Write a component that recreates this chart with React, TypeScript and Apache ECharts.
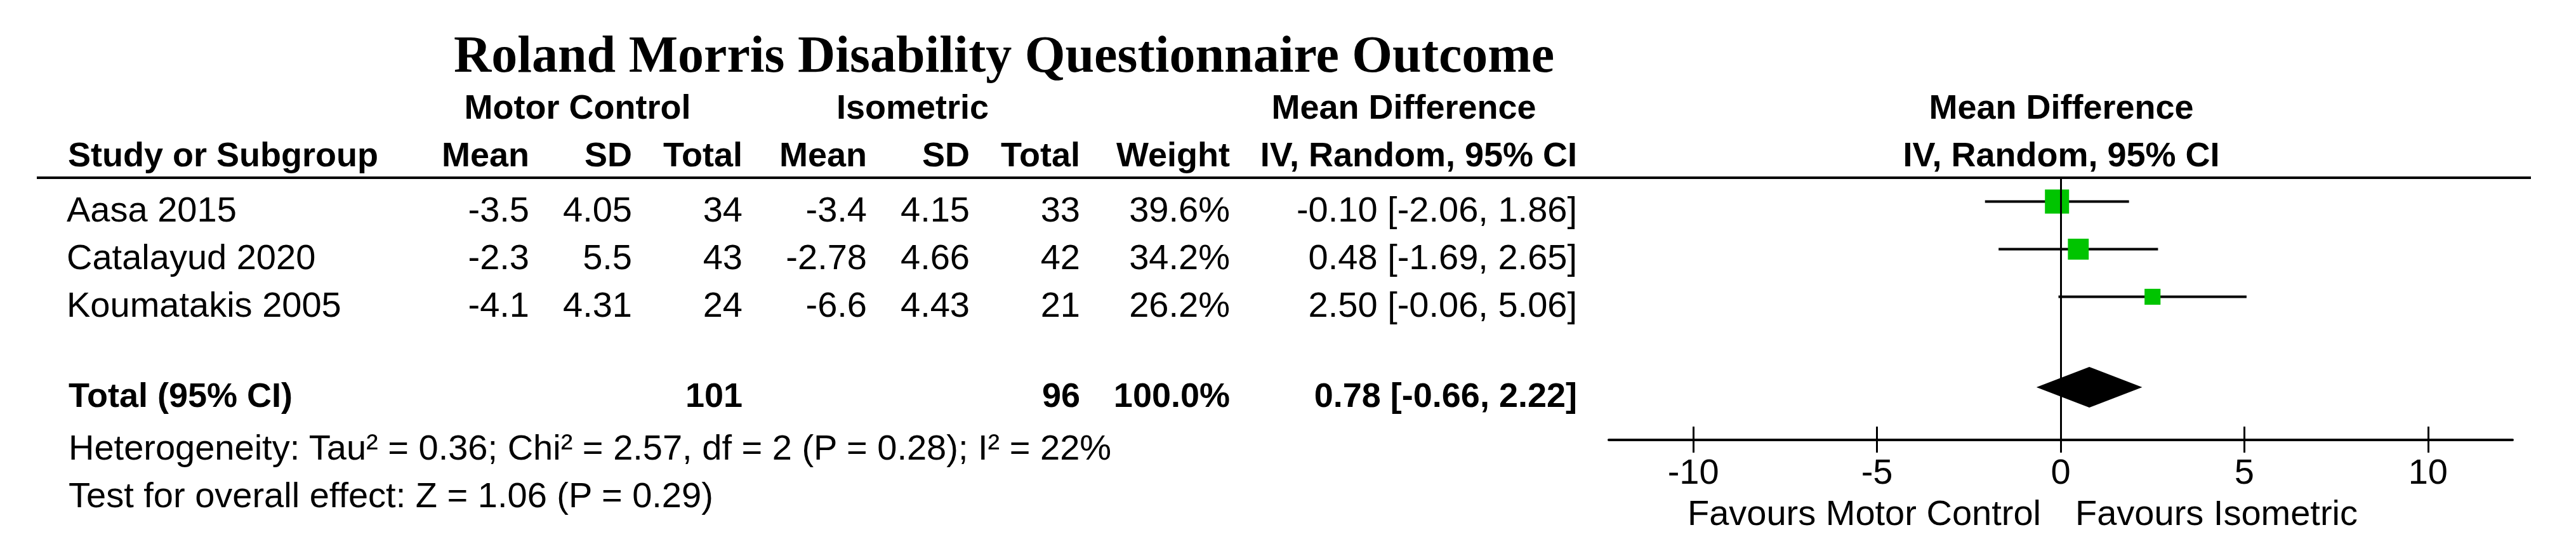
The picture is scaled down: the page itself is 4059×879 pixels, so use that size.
import React, { useEffect, useRef } from 'react';
import * as echarts from 'echarts';

// study rows
const studies = ['Aasa 2015', 'Catalayud 2020', 'Koumatakis 2005'];
const motorMean = [-3.5, -2.3, -4.1];
const motorSD = [4.05, 5.5, 4.31];
const motorTotal = [34, 43, 24];
const isoMean = [-3.4, -2.78, -6.6];
const isoSD = [4.15, 4.66, 4.43];
const isoTotal = [33, 42, 21];
const weights = [39.6, 34.2, 26.2];
const meanDiff = [-0.1, 0.48, 2.5];
const ciLow = [-2.06, -1.69, -0.06];
const ciHigh = [1.86, 2.65, 5.06];

// pooled result
const totalMotor = 101;
const totalIso = 96;
const totalWeight = 100.0;
const pooledMD = 0.78;
const pooledLow = -0.66;
const pooledHigh = 2.22;

const xTicks = [-10, -5, 0, 5, 10];
const X_MIN = -12.3;
const X_MAX = 12.3;

const heterogeneity = 'Heterogeneity: Tau\u00b2 = 0.36; Chi\u00b2 = 2.57, df = 2 (P = 0.28); I\u00b2 = 22%';
const overallEffect = 'Test for overall effect: Z = 1.06 (P = 0.29)';

// layout
const SANS = '"Liberation Sans", Arial, sans-serif';
const REG = `56px ${SANS}`;
const BOLD = `bold 54px ${SANS}`;
const GRID_TOP = 280;
const GRID_BOTTOM = 693;
const ROW_H = 75;
const Y_MAX = (GRID_BOTTOM - GRID_TOP) / ROW_H;
const studyRows = studies.map((_, i) => i + 0.5);
const totalRow = studies.length + 1.4;

const STUDY_X = 105;
const COLS = [834, 996, 1170, 1366, 1528, 1702, 1938, 2485];

const fmtCI = (m: number, l: number, h: number) => `${m.toFixed(2)} [${l.toFixed(2)}, ${h.toFixed(2)}]`;

const txt = (text: string, x: number, y: number, font: string, align = 'left') => ({
  type: 'text',
  x,
  y,
  style: { text, font, fill: '#000', textAlign: align, textVerticalAlign: 'middle' },
});

const App: React.FC = () => {
  const chartRef = useRef<HTMLDivElement>(null);

  useEffect(() => {
    document.body.style.margin = '0';
    if (!chartRef.current) return;
    const chart = echarts.init(chartRef.current, undefined, { renderer: 'svg' });

    const tableData = [...studyRows.map((r) => [0, r]), [0, totalRow]];

    chart.setOption({
      animation: false,
      backgroundColor: '#fff',
      grid: { left: 2535, right: 100, top: GRID_TOP, bottom: 879 - GRID_BOTTOM },
      xAxis: [
        {
          type: 'value',
          min: X_MIN,
          max: X_MAX,
          position: 'bottom',
          axisLine: { show: true, onZero: false, lineStyle: { color: '#000', width: 4 } },
          axisTick: { show: true, inside: false, length: 20, customValues: xTicks, lineStyle: { color: '#000', width: 3 } },
          axisLabel: { show: true, customValues: xTicks, margin: 21, fontSize: 56, fontFamily: SANS, color: '#000' },
          splitLine: { show: false },
        },
        {
          type: 'value',
          min: X_MIN,
          max: X_MAX,
          position: 'bottom',
          axisLine: { show: false, onZero: false },
          axisTick: { show: true, inside: true, length: 21, customValues: xTicks, lineStyle: { color: '#000', width: 3 } },
          axisLabel: { show: false },
          splitLine: { show: false },
        },
      ],
      yAxis: { type: 'value', inverse: true, min: 0, max: Y_MAX, show: false },
      series: [
        {
          type: 'custom',
          name: 'table',
          data: tableData,
          encode: { x: 0, y: 1 },
          renderItem: (params: any, api: any) => {
            const i = params.dataIndex;
            const y = api.coord([0, api.value(1)])[1] + 12;
            if (i < studies.length) {
              const cells = [
                String(motorMean[i]), String(motorSD[i]), String(motorTotal[i]),
                String(isoMean[i]), String(isoSD[i]), String(isoTotal[i]),
                `${weights[i].toFixed(1)}%`, fmtCI(meanDiff[i], ciLow[i], ciHigh[i]),
              ];
              return {
                type: 'group',
                children: [txt(studies[i], STUDY_X, y, REG), ...cells.map((c, k) => txt(c, COLS[k], y, REG, 'right'))],
              };
            }
            return {
              type: 'group',
              children: [
                txt('Total (95% CI)', STUDY_X + 3, y, BOLD),
                txt(String(totalMotor), COLS[2], y, BOLD, 'right'),
                txt(String(totalIso), COLS[5], y, BOLD, 'right'),
                txt(`${totalWeight.toFixed(1)}%`, COLS[6], y, BOLD, 'right'),
                txt(fmtCI(pooledMD, pooledLow, pooledHigh), COLS[7], y, BOLD, 'right'),
              ],
            };
          },
        },
        {
          type: 'custom',
          name: 'studies',
          z: 2,
          data: studies.map((_, i) => [meanDiff[i], studyRows[i], ciLow[i], ciHigh[i], weights[i]]),
          encode: { x: 0, y: 1 },
          renderItem: (params: any, api: any) => {
            const yv = api.value(1);
            const [cx, cy] = api.coord([api.value(0), yv]);
            const x0 = api.coord([api.value(2), yv])[0];
            const x1 = api.coord([api.value(3), yv])[0];
            const side = api.value(4) * 0.96;
            return {
              type: 'group',
              children: [
                { type: 'line', shape: { x1: x0, y1: cy, x2: x1, y2: cy }, style: { stroke: '#000', lineWidth: 4 } },
                { type: 'rect', shape: { x: cx - side / 2, y: cy - side / 2, width: side, height: side }, style: { fill: '#00c400' } },
              ],
            };
          },
        },
        {
          type: 'custom',
          name: 'pooled',
          z: 2,
          data: [[pooledMD, totalRow, pooledLow, pooledHigh]],
          encode: { x: 0, y: 1 },
          renderItem: (params: any, api: any) => {
            const yv = api.value(1);
            const [cx, cy] = api.coord([api.value(0), yv]);
            const x0 = api.coord([api.value(2), yv])[0];
            const x1 = api.coord([api.value(3), yv])[0];
            return {
              type: 'polygon',
              shape: { points: [[x0, cy], [cx, cy - 32], [x1, cy], [cx, cy + 32]] },
              style: { fill: '#000' },
            };
          },
        },
        {
          type: 'line',
          name: 'zero',
          z: 5,
          data: [],
          markLine: {
            silent: true,
            symbol: 'none',
            label: { show: false },
            lineStyle: { color: '#000', width: 3, type: 'solid' },
            data: [{ xAxis: 0 }],
          },
        },
      ],
      graphic: [
        txt('Roland Morris Disability Questionnaire Outcome', 1582, 85, `bold 82px "Liberation Serif", "Times New Roman", serif`, 'center'),
        txt('Motor Control', 910, 168, BOLD, 'center'),
        txt('Isometric', 1438, 168, BOLD, 'center'),
        txt('Mean Difference', 2212, 168, BOLD, 'center'),
        txt('Mean Difference', 3248, 168, BOLD, 'center'),
        txt('Study or Subgroup', 107, 243, BOLD),
        ...['Mean', 'SD', 'Total', 'Mean', 'SD', 'Total', 'Weight', 'IV, Random, 95% CI'].map((h, k) =>
          txt(h, COLS[k], 243, BOLD, 'right')
        ),
        txt('IV, Random, 95% CI', 3248, 243, BOLD, 'center'),
        {
          type: 'line',
          shape: { x1: 58, y1: GRID_TOP, x2: 3988, y2: GRID_TOP },
          style: { stroke: '#000', lineWidth: 4 },
        },
        txt(heterogeneity, 108, 704, REG),
        txt(overallEffect, 108, 779, REG),
        txt('Favours Motor Control', 3216, 807, REG, 'right'),
        txt('Favours Isometric', 3270, 807, REG),
      ],
    });

    return () => {
      chart.dispose();
    };
  }, []);

  return <div ref={chartRef} style={{ width: '4059px', height: '879px' }}></div>;
};

export default App;
